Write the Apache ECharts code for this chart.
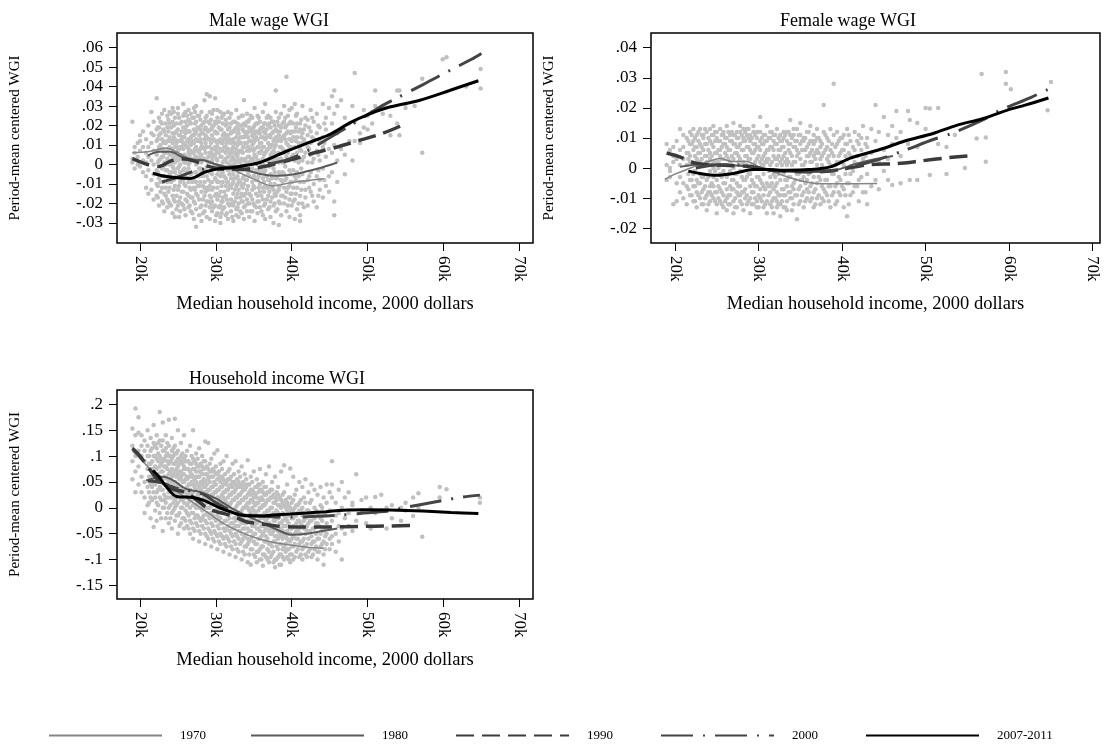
<!DOCTYPE html>
<html>
<head>
<meta charset="utf-8">
<script src="https://cdn.jsdelivr.net/npm/echarts@6/dist/echarts.min.js"></script>
<style>
  html, body { margin: 0; padding: 0; background: #fff; }
  #chart { width: 1105px; height: 750px; }
</style>
</head>
<body>
<div id="chart"></div>
<script>
// tick values
const xTicks = [20, 30, 40, 50, 60, 70];
const maleTicks = [-.03, -.02, -.01, 0, .01, .02, .03, .04, .05, .06];
const femaleTicks = [-.02, -.01, 0, .01, .02, .03, .04];
const hhTicks = [-.15, -.1, -.05, 0, .05, .1, .15, .2];
const years = ['1970', '1980', '1990', '2000', '2007-2011'];
const panelTitles = ['Male wage WGI', 'Female wage WGI', 'Household income WGI'];

// scatter clouds, [income (k), list of WGI values]
const maleDots = [
  [19.0,[.022,.003,.001]],[19.3,[.006,.009,-.002]],[19.7,[.011,.004,0]],[20.0,[.012,.007,-.001,.015]],
  [20.4,[.009,-.004,.017,.002]],[20.8,[.013,-.012,.006,.001,-.006]],[21.1,[.02,-.015,.004,.009,-.003]],
  [21.5,[.027,.011,-.008,.002,-.013,.016]],[21.8,[.015,-.005,.007,-.018,.022,0]],
  [22.2,[.034,.018,-.01,.005,-.016,.012,-.003]],[22.5,[.024,.009,-.021,.002,.015,-.007,.019]],
  [22.9,[.013,-.012,.026,.004,-.019,.008,-.002,.021]],[23.2,[.028,.006,-.015,.017,-.006,.011,-.024,.001]],
  [23.6,[.019,-.009,.025,.003,-.018,.012,-.003,.007,-.022]],[23.9,[.027,.014,-.012,.005,.021,-.005,-.02,.009,0]],
  [24.3,[.022,-.016,.011,.029,-.007,.003,-.025,.016,-.001,.008]],[24.6,[.016,.004,-.011,.024,-.019,.009,-.004,.013,-.027,.001]],
  [25.0,[.026,-.006,.012,-.021,.018,.002,-.013,.007,.029,-.002]],[25.3,[.012,-.017,.021,.005,-.009,.015,-.024,0,.009,-.004]],
  [25.7,[.031,.008,-.014,.019,-.003,.011,-.021,.025,.002,-.008,.014]],[26.0,[.018,-.011,.004,.027,-.018,.01,-.006,.016,-.026,.001,.022]],
  [26.4,[.023,.006,-.016,.013,-.002,.028,-.022,.008,-.009,.017,0]],[26.7,[.014,-.013,.021,.003,-.024,.01,-.005,.026,-.017,.007]],
  [27.1,[.029,.011,-.008,.018,-.019,.002,.024,-.012,.006,-.028,.015]],[27.4,[.017,-.004,.009,-.015,.022,-.023,.004,.013,-.009,0,.03,-.032]],
  [27.8,[.025,-.018,.012,-.002,.019,-.011,.006,-.026,.015,-.006,.003]],[28.1,[.02,.005,-.014,.027,-.021,.011,-.004,.016,-.029,.001,.009]],
  [28.5,[.033,.013,-.009,.022,-.016,.003,-.024,.008,-.003,.018,-.012]],[28.8,[.036,.018,-.006,.009,-.019,.025,-.012,.002,-.027,.014,-.001]],
  [29.2,[.035,.021,-.011,.006,-.022,.013,-.004,.027,-.016,.001,.009,-.028]],[29.5,[.026,-.009,.015,-.019,.004,.019,-.013,.008,-.024,.002,-.005]],
  [29.9,[.034,.012,-.016,.022,-.007,.005,-.021,.017,-.002,.009,-.029]],[30.2,[.024,-.012,.009,-.025,.016,.002,-.018,.011,-.005,.028,-.009]],
  [30.6,[.018,-.006,.013,-.021,.027,-.014,.004,-.027,.008,-.001,-.03]],[30.9,[.025,.007,-.017,.015,-.009,.021,-.023,.001,.011,-.004,-.019]],
  [31.3,[.02,-.011,.006,-.026,.014,-.002,.023,-.016,.009,-.007,.003]],[31.6,[.027,.012,-.02,.004,-.013,.018,-.028,.008,-.003,.015,-.009]],
  [32.0,[.016,-.007,.021,-.018,.002,.011,-.024,.006,-.012,.026,-.001]],[32.3,[.022,-.015,.009,-.005,.017,-.021,.003,-.029,.013,-.009,0]],
  [32.7,[.028,.005,-.011,.019,-.023,.008,-.003,.014,-.017,.001,-.026]],[33.0,[.018,-.004,.024,-.013,.006,-.02,.012,-.008,.002,-.027,.016]],
  [33.4,[.025,.011,-.019,.003,-.011,.02,-.025,.007,-.002,.014,-.015]],[33.7,[.033,.014,-.006,.021,-.016,.002,-.022,.009,-.01,.017,-.028]],
  [34.1,[.026,-.013,.007,-.024,.016,-.003,.011,-.018,.001,.022,-.008]],[34.4,[.019,.004,-.015,.012,-.027,.007,-.006,.023,-.02,.001]],
  [34.8,[.024,-.009,.015,-.018,.003,.01,-.024,.018,-.002,-.013]],[35.1,[.029,.012,-.006,.02,-.021,.005,-.012,.008,-.029,.001,.016]],
  [35.5,[.021,-.016,.009,-.003,.025,-.019,.013,-.008,.002,-.025]],[35.8,[.016,-.004,.022,-.014,.006,-.022,.011,-.01,.001,.018]],
  [36.2,[.027,.009,-.018,.003,-.007,.014,-.026,.019,-.012,0]],[36.5,[.031,.013,-.011,.021,-.02,.006,-.003,.016,-.028]],
  [36.9,[.02,-.008,.011,-.016,.025,.002,-.023,.008,-.012]],[37.2,[.024,.005,-.019,.014,-.005,.019,-.027,.009,-.01]],
  [37.6,[.017,-.013,.022,-.002,.007,-.021,.012,-.03,.003]],[37.9,[.038,.027,.01,-.007,.018,-.016,.003,-.024,.014]],
  [38.3,[.02,-.011,.006,-.019,.015,-.004,.024,-.013,.001,-.031]],[38.6,[.026,.009,-.016,.012,-.008,.019,-.026,.003]],
  [39.0,[.03,.015,-.005,.022,-.02,.007,-.012,.001]],[39.3,[.045,.02,-.014,.004,-.024,.011,-.007,.016]],
  [39.7,[.028,.008,-.018,.013,-.003,.021,-.011,-.027]],[40.0,[.029,.012,-.009,.004,-.021,.017,-.015]],
  [40.4,[.031,.017,-.006,.009,-.018,.002,-.028]],[40.7,[.026,-.012,.014,-.004,.021,-.023,.006]],
  [41.1,[.021,.008,-.016,.003,-.009,.018,-.026,-.029]],[41.4,[.03,.011,-.02,.016,-.005,.002]],
  [41.8,[.02,-.013,.006,.024,-.017,.011]],[42.1,[.023,.009,-.008,.015,-.021,.001]],
  [42.5,[.017,-.004,.011,-.014,.028,.005]],[42.9,[.022,.013,-.01,.003,-.019]],
  [43.3,[.026,.007,-.006,.016,-.022]],[43.7,[.012,-.013,.019,.002,-.008]],
  [44.1,[.031,.009,-.017,.014,-.002]],[44.5,[.024,.004,-.011,.018]],[44.9,[.029,.015,-.006,.008,-.014]],
  [45.3,[.035,.021,.006,-.004]],[45.6,[.038,.026,-.019,-.026,.01]],[46.0,[.03,.016,.002,-.009]],
  [46.5,[.033,.018,.008]],[47.0,[.024,.005,-.005]],[47.6,[.021,.012]],[48.0,[.03,.002]],[48.3,[.047,.022,.012]],
  [49.0,[.016,.011]],[49.5,[.028,.019]],[50.0,[.025,.018]],[50.6,[.027,.021]],[51.0,[.038,.03]],
  [52.0,[.026,.03]],[53.0,[.025,.015]],[53.9,[.038,.021]],[54.2,[.038,.015]],[55.0,[.029,.031]],
  [56.2,[.03]],[57.2,[.044,.006]],[59.9,[.054]],[60.4,[.055]],[63.0,[.04]],[64.9,[.049,.039]]
];
const maleCore = [
  [22.35,[.007,-.011,.019,-.004,.013,-.017,.001]],[22.7,[.016,-.006,.01,-.014,.022,.003,-.009]],
  [23.05,[.004,.018,-.009,.012,-.02,.008,-.001]],[23.4,[.011,-.003,.021,-.012,.006,-.016,.015,0]],
  [23.75,[.008,-.014,.017,.002,-.007,.023,-.019,.012]],[24.1,[.019,.005,-.009,.012,-.021,.001,-.004,.026]],
  [24.45,[.006,-.013,.02,-.002,.014,-.008,.027,-.018]],[24.8,[.021,.009,-.016,.003,-.006,.017,-.023,.011]],
  [25.15,[.015,-.001,.024,-.011,.008,-.019,.004,-.027]],[25.5,[.003,.017,-.007,.022,-.014,.009,-.02,.013]],
  [25.85,[.026,.005,-.01,.014,-.002,-.023,.019,.001]],[26.2,[.009,-.015,.02,-.004,.012,-.019,.003,.025]],
  [26.55,[.017,.001,-.012,.022,-.007,.011,-.021,.005]],[26.9,[.006,-.009,.015,-.017,.024,.002,-.025,.012]],
  [27.25,[.021,.008,-.013,.004,-.02,.016,-.004,.027]],[27.6,[.012,-.006,.019,-.016,.001,.025,-.011,.007]],
  [27.95,[.018,.004,-.009,.013,-.022,.008,-.002,.023]],[28.3,[.009,-.018,.016,-.006,.021,-.011,.003,-.025]],
  [28.65,[.024,.011,-.003,.019,-.014,.006,-.021,.015]],[29.0,[.013,-.008,.004,-.013,.017,-.019,.001,.022]],
  [29.35,[.018,.006,-.017,.011,-.009,.023,-.004,-.02]],[29.7,[.008,-.012,.02,-.001,.013,-.022,.005,.028]],
  [30.05,[.016,.003,-.008,.021,-.015,.007,-.026,.012]],[30.4,[.022,.006,-.016,.012,-.003,.019,-.022,-.009]],
  [30.75,[.011,-.011,.018,-.005,.004,-.019,.024,-.025]],[31.1,[.016,.002,-.014,.009,-.022,.013,-.006,.026]],
  [31.45,[.007,-.018,.015,-.009,.021,.001,-.025,.011]],[31.8,[.019,.006,-.011,.013,-.005,-.021,.024,0]],
  [32.15,[.012,-.01,.004,-.02,.017,-.003,.008,-.027]],[32.5,[.018,.002,-.013,.011,-.007,.022,-.019,.006]],
  [32.85,[.01,-.015,.016,-.006,.004,-.022,.021,-.01]],[33.2,[.02,.007,-.009,.014,-.017,.001,-.024,.011]],
  [33.55,[.006,-.012,.018,-.003,.009,-.019,.025,-.007]],[33.9,[.015,.003,-.015,.011,-.008,.02,-.021,0]],
  [34.25,[.009,-.02,.014,-.011,.004,.022,-.005,.017]],[34.6,[.017,-.003,.008,-.016,.012,-.024,.002,.025]],
  [34.95,[.007,.019,-.011,.003,-.02,.014,-.006,.011]],[35.3,[.014,-.008,.021,-.015,.004,-.003,.017,-.022]],
  [35.65,[.009,.002,-.012,.016,-.019,.006,-.006,.024]],[36.0,[.019,-.016,.011,-.003,.007,-.024,.014,0]],
  [36.35,[.005,.017,-.009,.021,-.014,.009,-.021,-.004]],[36.7,[.014,-.012,.007,-.006,.018,-.018,.002,.024]],
  [37.05,[.01,.003,-.014,.015,-.008,.021,-.022,-.001]],[37.4,[.016,-.007,.01,-.017,.003,.022,-.012,.006]],
  [37.75,[.006,-.01,.02,-.004,.013,-.02,.009,-.015]],[38.1,[.012,.002,-.014,.017,-.007,.022,-.023]],
  [38.45,[.017,-.005,.009,-.02,.003,.013,-.011]],[38.8,[.008,.021,-.009,.014,-.016,.001,-.004]],
  [39.15,[.013,-.008,.006,-.017,.019,-.001,.024]],[39.5,[.01,.002,-.012,.017,-.021,.006,.025]],
  [39.85,[.016,-.005,.009,-.015,.022,-.009]],[40.2,[.005,.014,-.012,.021,-.003,-.019]],
  [40.55,[.012,-.008,.019,-.015,.003,.025]],[40.9,[.017,.001,-.006,.011,-.02]],
  [41.25,[.007,-.013,.014,-.002,.023]],[41.6,[.013,.004,-.009,.018,-.022]],
  [42.3,[.008,-.006,.019,-.012]],[42.7,[.014,.001,-.016,.024]],[43.5,[.005,.02,-.003,-.016]],[44.3,[.011,-.008,.021]]
];

const femaleDots = [
  [19.0,[.008,-.004,.001]],[19.4,[.006,-.003,0,-.001]],[19.8,[.004,-.012,.002,.007]],[20.2,[.009,-.011,-.005,.003]],
  [20.6,[.013,-.008,.006,.001,-.003]],[21.0,[.007,-.01,.003,-.005,.011]],[21.4,[.01,-.006,.001,-.012,.005]],
  [21.8,[.012,.004,-.009,.002,-.004,.008]],[22.2,[.009,-.002,.006,-.011,.013,-.006]],
  [22.6,[.011,.003,-.008,.007,-.004,-.013,.001]],[23.0,[.013,-.005,.008,-.01,.002,.005,-.002]],
  [23.4,[.01,.006,-.012,.001,-.007,.011,-.003]],[23.8,[.012,-.009,.004,.008,-.004,-.014,.002]],
  [24.2,[.009,-.006,.013,-.001,.005,-.011,.003,-.008]],[24.6,[.011,.002,-.01,.007,-.003,.014,-.006,0]],
  [25.0,[.01,-.012,.005,-.004,.012,-.008,.002,-.015]],[25.4,[.013,.006,-.007,.001,-.011,.009,-.002,.004]],
  [25.8,[.012,-.005,.008,-.013,.003,-.009,.011,-.001]],[26.2,[.014,.004,-.01,.007,-.003,.01,-.007,.001,-.014]],
  [26.6,[.011,-.006,.002,-.012,.009,-.001,.006,-.009]],[27.0,[.015,.008,-.004,.011,-.011,.003,-.007,0,-.015]],
  [27.4,[.012,-.008,.005,-.002,.01,-.013,.007,-.005]],[27.8,[.014,.003,-.011,.008,-.006,.012,-.001,-.009]],
  [28.2,[.01,-.004,.006,-.014,.002,.009,-.008,.013]],[28.6,[.013,.007,-.009,.004,-.003,.011,-.012,.001]],
  [29.0,[.011,-.006,.009,-.01,.003,-.002,.006,-.015]],[29.4,[.012,.005,-.012,.008,-.005,.001,-.008,.014]],
  [29.8,[.01,-.003,.007,-.011,.012,-.006,.003,-.013]],[30.2,[.017,.009,-.007,.002,-.01,.006,-.004,.012]],
  [30.6,[.011,-.009,.004,-.002,.008,-.013,.001,-.006]],[31.0,[.014,.006,-.011,.009,-.005,.002,-.015,.003]],
  [31.4,[.012,-.003,.007,-.008,.01,-.012,.001,-.006]],[31.8,[.009,.004,-.01,.006,-.002,-.015,.011,-.007]],
  [32.2,[.013,-.005,.008,-.011,.003,-.008,.001,-.013]],[32.6,[.011,.006,-.009,.002,-.004,.009,-.012,-.016]],
  [33.0,[.01,-.007,.004,-.013,.007,-.002,.012,-.009]],[33.4,[.012,.003,-.006,.009,-.011,.001,-.004,-.014]],
  [33.8,[.016,.008,-.01,.005,-.003,.011,-.008]],[34.2,[.011,-.005,.007,-.012,.002,-.007,.013]],
  [34.6,[.013,.004,-.009,.009,-.002,-.017,.006]],[35.0,[.015,-.006,.003,-.011,.008,-.004,.011]],
  [35.4,[.01,.006,-.008,.001,-.013,.009,-.003]],[35.8,[.012,-.004,.007,-.01,.004,-.007]],
  [36.2,[.014,.009,-.006,.002,-.011,.005]],[36.6,[.011,-.008,.004,-.003,.008,-.013]],
  [37.0,[.013,.006,-.01,.001,-.005,.01]],[37.4,[.009,-.004,.007,-.012,.003]],
  [37.8,[.021,.012,-.007,.005,-.001,-.011]],[38.2,[.01,.003,-.009,.007,-.004]],
  [38.6,[.013,-.006,.006,-.013,.001]],[39.0,[.028,.011,.004,-.008,-.002]],
  [39.4,[.012,-.005,.008,-.011,.002]],[39.8,[.01,.005,-.009,.002,-.004]],
  [40.2,[.011,-.007,.006,-.013,.001]],[40.6,[.013,.003,-.005,.008,-.016]],
  [41.0,[.009,-.009,.004,-.002]],[41.5,[.012,.006,-.006,.002]],[42.0,[.011,-.004,.008,-.011]],
  [42.5,[.014,.003,-.008]],[43.0,[.01,-.002,.007,-.012]],[43.5,[.013,.005,-.006]],[44.0,[.021,.009,-.004]],
  [44.4,[.012,.002,-.007]],[45.0,[.017,.006,-.001]],[45.5,[.011,.003,-.004]],[46.0,[.014,.008,-.0056]],
  [46.5,[.019,.01]],[47.0,[.012,.004,-.005]],[47.9,[.019,.008]],[48.1,[.016,-.004]],[49.0,[.015,.007,-.004]],
  [50.0,[.02,.013]],[50.5,[.0198,-.0023]],[51.5,[.02,.008]],[52.5,[.007,-.002]],[53.5,[.011]],[54.7,[0]],
  [56.1,[.0098]],[56.7,[.0313]],[57.2,[.0102,.0021]],[59.6,[.028,.0319]],[60.2,[.0262]],[64.6,[.0192]],[65.0,[.0286]]
];
const femaleCore = [
  [21.6,[.005,-.007,.009,-.002,.003]],[22.0,[.008,-.004,.002,-.009,.011]],[22.4,[.004,-.006,.01,-.001,-.011,.007]],
  [22.8,[.009,.002,-.005,.012,-.009,.005]],[23.2,[.003,-.008,.007,-.003,.011,-.012]],[23.6,[.008,.001,-.006,.004,-.01,.013]],
  [24.0,[.006,-.003,.01,-.008,.002,-.012]],[24.4,[.011,.004,-.005,.008,-.009,.001]],[24.8,[.005,-.008,.009,-.001,.012,-.011]],
  [25.2,[.009,.002,-.006,.006,-.01,0]],[25.6,[.007,-.003,.011,-.008,.003,-.012]],[26.0,[.01,.001,-.005,.008,-.011,.005]],
  [26.4,[.006,-.009,.003,-.002,.012,-.012]],[26.8,[.012,.004,-.007,.009,-.004,.001]],[27.2,[.008,-.002,.005,-.01,.011,-.013]],
  [27.6,[.01,.002,-.006,.007,-.009,.004]],[28.0,[.006,-.008,.011,-.003,.001,-.012]],[28.4,[.009,.004,-.004,.012,-.007,-.01]],
  [28.8,[.007,-.002,.01,-.011,.003,.013]],[29.2,[.01,.001,-.008,.005,-.004,-.012]],[29.6,[.006,-.006,.011,.002,-.01,.008]],
  [30.0,[.012,.004,-.003,.007,-.009,-.013]],[30.4,[.008,-.005,.01,-.011,.001,.003]],[30.8,[.005,.009,-.007,.002,-.012,.011]],
  [31.2,[.01,-.001,.006,-.009,.003,-.006]],[31.6,[.007,-.005,.012,-.011,.002,-.013]],[32.0,[.011,.003,-.006,.008,-.003,-.01]],
  [32.4,[.006,-.009,.004,-.002,.01,-.012]],[32.8,[.009,.001,-.007,.007,-.011,.003]],[33.2,[.005,-.004,.011,-.009,.002,-.013]],
  [33.6,[.008,.002,-.008,.006,-.003,.012]],[34.0,[.01,-.006,.004,-.01,.001,-.014]],[34.4,[.007,.002,-.004,.009,-.009]],
  [34.8,[.005,-.007,.011,-.002,-.012]],[35.2,[.009,.001,-.009,.006,-.004]],[35.6,[.006,-.005,.01,-.011,.002]],
  [36.0,[.008,-.002,.004,-.008,.012]],[36.4,[.006,-.01,.002,.009,-.005]],[36.8,[.009,.003,-.007,.005,-.012]],
  [37.2,[.005,-.003,.01,-.009]],[37.6,[.008,.001,-.006,.004,-.01]],[38.0,[.006,-.004,.011,-.008]],
  [38.4,[.009,.002,-.006,.004,-.011]],[38.8,[.005,-.009,.008,-.002]],[39.2,[.007,.001,-.006,-.012]],
  [39.6,[.009,-.003,.004,-.008]],[40.0,[.006,-.006,.002,.01]],[40.4,[.008,-.002,-.009,.004]],
  [40.8,[.005,.011,-.005,-.012]],[41.3,[.007,-.001,-.008]],[41.8,[.004,.009,-.006]],[42.3,[.006,-.003,.01]],[42.8,[.004,-.008,.008]]
];

const hhDots = [
  [19.0,[.153,.055,.12,.09]],[19.4,[.192,.14,.1,.07,.03]],[19.8,[.145,.11,.175,.08,.045]],
  [20.2,[.14,.06,.1,.03,.12]],[20.6,[.13,.09,.05,.02,.11,-.01]],[21.0,[.12,.075,.15,.04,.1,.005]],
  [21.4,[.135,.085,.06,.02,.11,-.02,.045]],[21.8,[.16,.1,.07,.03,-.037,.125,.05]],
  [22.2,[.14,.095,.05,.01,.115,.075,-.025,.03]],[22.6,[.185,.13,.08,.06,.02,.1,.04,-.01]],
  [23.0,[.165,.11,.07,.035,.09,0,.055,-.045,.13]],[23.4,[.14,.1,.06,.02,.08,-.02,.045,.115,.01]],
  [23.8,[.17,.12,.085,.05,0,.065,.03,-.03,.1]],[24.2,[.135,.095,.06,.02,.075,-.01,.04,.11,-.04,.05]],
  [24.6,[.172,.105,.07,.03,.085,0,.05,-.025,.12,.015]],[25.0,[.15,.11,.065,.025,.08,-.015,.045,.095,-.05,.01]],
  [25.4,[.125,.09,.055,.015,.07,-.03,.04,.1,0,.06]],[25.8,[.14,.08,.05,.02,.065,-.02,.03,.095,-.04,.01,.075]],
  [26.2,[.11,.075,.04,.005,.055,-.035,.025,.09,-.01,.06]],[26.6,[.12,.085,.045,.015,.07,-.025,.035,-.05,0,.06]],
  [27.0,[.15,.095,.06,.02,.045,-.01,.03,.075,-.04,.005,-.06]],[27.4,[.105,.07,.035,0,.05,-.03,.015,.085,-.015,.06]],
  [27.8,[.115,.08,.04,.01,.06,-.02,.025,-.045,0,.07,-.065]],[28.2,[.1,.065,.03,-.005,.045,-.035,.01,.08,-.02,.05]],
  [28.6,[.128,.09,.05,.015,.065,-.025,.03,-.05,0,.04,-.07]],[29.0,[.125,.075,.035,0,.055,-.04,.015,-.015,.06,-.06]],
  [29.4,[.095,.06,.025,-.01,.04,-.03,.005,.07,-.05,.02,-.075]],[29.8,[.105,.07,.03,-.005,.05,-.045,.01,-.02,.045,-.065]],
  [30.2,[.111,.065,.02,-.015,.035,-.035,0,.055,-.055,.01,-.08]],[30.6,[.085,.05,.015,-.02,.04,-.05,.005,-.03,.06,-.07]],
  [31.0,[.09,.055,.02,-.01,.03,-.04,-.005,.045,-.06,-.085,0]],[31.4,[.1,.045,.01,-.025,.035,-.055,0,-.04,.05,-.075]],
  [31.8,[.075,.04,.005,-.02,.025,-.045,-.01,.055,-.065,-.09]],[32.2,[.085,.05,.015,-.03,.03,-.055,-.005,-.04,.04,-.08]],
  [32.6,[.09,.035,0,-.025,.02,-.05,-.01,.045,-.07,-.095,-.035]],[33.0,[.07,.04,.01,-.035,.025,-.06,-.015,.05,-.045,-.085]],
  [33.4,[.08,.03,-.005,-.03,.015,-.065,-.02,.04,-.05,-.1]],[33.8,[.065,.035,0,-.04,.02,-.055,-.015,.045,-.075,-.09,-.03]],
  [34.2,[.092,.045,.01,-.025,.025,-.07,-.04,0,-.06,-.105]],[34.6,[.06,.025,-.01,-.045,.015,-.06,-.025,.035,-.08,-.11]],
  [35.0,[.07,.03,-.005,-.035,.02,-.065,-.05,.01,-.09,-.02]],[35.4,[.055,.02,-.015,-.04,.01,-.07,-.03,.04,-.085,-.105]],
  [35.8,[.075,.035,0,-.045,.015,-.06,-.02,-.08,-.1,.045]],[36.2,[.05,.015,-.02,-.05,.005,-.075,-.035,.03,-.09,-.112]],
  [36.6,[.065,.025,-.01,-.04,.01,-.065,-.055,-.025,-.095,.04]],[37.0,[.08,.03,-.005,-.045,.015,-.07,-.03,-.085,-.105]],
  [37.4,[.05,.02,-.015,-.05,0,-.075,-.04,-.09,.035]],[37.8,[.06,.01,-.025,-.055,.02,-.065,-.035,-.1,-.115]],
  [38.2,[.04,.005,-.02,-.045,-.01,-.08,-.06,-.095,.025]],[38.6,[.07,.015,-.03,-.055,0,-.07,-.04,-.09,-.11]],
  [39.0,[.082,.03,-.015,-.05,.005,-.075,-.035,-.1]],[39.4,[.045,.01,-.025,-.06,-.005,-.08,-.045,-.095]],
  [39.8,[.076,.02,-.01,-.04,0,-.065,-.05,-.09,-.105]],[40.2,[.06,.015,-.02,-.055,-.005,-.075,-.035,-.1]],
  [40.6,[.035,.005,-.03,-.06,-.015,-.085,-.045]],[41.0,[.05,.01,-.025,-.05,-.07,-.04,-.095,-.005]],
  [41.4,[.04,0,-.035,-.065,-.015,-.08,-.1]],[41.8,[.055,.01,-.02,-.05,-.075,-.04,-.09]],
  [42.2,[.03,-.005,-.03,-.06,-.015,-.085]],[42.6,[.045,.015,-.025,-.055,-.07,-.095]],
  [43.0,[.035,0,-.04,-.065,-.02,-.08]],[43.4,[.025,-.01,-.03,-.06,-.085,-.1]],
  [43.8,[.04,.005,-.02,-.05,-.075]],[44.2,[.02,-.015,-.045,-.065,-.09,-.11]],[44.6,[.045,.01,-.03,-.07,-.05]],
  [45.0,[.03,-.005,-.04,-.06,-.08]],[45.3,[.09,.045,.02,-.025,-.055,-.07]],[45.8,[.01,-.015,-.05,-.085]],
  [46.2,[.035,-.01,-.035,-.065]],[46.6,[.05,0,-.04,-.1]],[47.0,[.02,-.02,-.05]],[47.5,[.03,-.01,-.035]],
  [48.0,[.01,-.045,.005]],[48.5,[.065,-.025]],[49.2,[.015,-.005]],[49.8,[.02,-.03]],[50.4,[0,-.04]],
  [51.0,[.021,-.01]],[51.8,[.025,-.005]],[52.5,[0,-.04]],[53.2,[.005,-.02]],[54.4,[0,-.025]],
  [55.0,[.01,-.005]],[56.0,[.02,-.016]],[56.7,[.028,0]],[57.2,[-.056]],[59.5,[.04,.02]],[60.4,[.036]],[64.8,[.01,.02]]
];
const hhCore = [
  [21.2,[.1,.06,.03,.085,.01]],[21.6,[.115,.075,.04,.09,.015,.055]],[22.0,[.12,.08,.045,.1,.02,.06,-.005]],
  [22.4,[.105,.065,.035,.09,.005,.05,.125]],[22.8,[.12,.085,.05,.07,.015,.095,-.02,.035]],
  [23.2,[.095,.06,.025,.08,0,.045,.11,.015]],[23.6,[.105,.075,.04,.09,-.01,.055,.125,.02]],
  [24.0,[.09,.055,.02,.07,.005,.035,.1,-.02]],[24.4,[.1,.065,.03,.085,-.005,.045,.115,.01]],
  [24.8,[.09,.06,.02,.075,-.015,.04,.105,.005]],[25.2,[.095,.055,.025,.07,-.01,.035,.085,-.035]],
  [25.6,[.085,.05,.015,.065,-.02,.03,.105,0]],[26.0,[.09,.055,.02,.075,-.025,.035,.1,-.005]],
  [26.4,[.075,.045,.01,.06,-.015,.03,.09,-.04]],[26.8,[.085,.05,.015,.065,-.03,.025,.1,-.01]],
  [27.2,[.075,.04,.005,.055,-.02,.02,.09,-.045]],[27.6,[.08,.045,.01,.06,-.035,.025,.095,-.015]],
  [28.0,[.07,.035,0,.05,-.025,.015,.085,-.05]],[28.4,[.075,.04,.005,.055,-.04,.02,.09,-.015]],
  [28.8,[.065,.03,-.01,.045,-.03,.01,.08,-.055]],[29.2,[.07,.035,0,.05,-.045,.015,.085,-.02]],
  [29.6,[.06,.025,-.015,.04,-.035,.005,.075,-.06]],[30.0,[.065,.03,-.005,.045,-.05,.01,.08,-.025]],
  [30.4,[.055,.02,-.02,.035,-.04,0,.07,-.065]],[30.8,[.06,.025,-.01,.04,-.055,.005,.075,-.03]],
  [31.2,[.05,.015,-.025,.03,-.045,-.005,.065,-.07]],[31.6,[.055,.02,-.015,.035,-.06,0,.07,-.035]],
  [32.0,[.045,.01,-.03,.025,-.05,-.01,.06,-.075]],[32.4,[.05,.015,-.02,.03,-.065,-.005,.065,-.04]],
  [32.8,[.04,.005,-.035,.02,-.055,-.015,.055,-.08]],[33.2,[.045,.01,-.025,.025,-.07,-.01,.06,-.045]],
  [33.6,[.035,0,-.04,.015,-.06,-.02,.05,-.085]],[34.0,[.04,.005,-.03,.02,-.075,-.015,.055,-.05]],
  [34.4,[.03,-.005,-.045,.01,-.065,-.025,.045,-.09]],[34.8,[.035,0,-.035,.015,-.08,-.02,.05,-.055]],
  [35.2,[.025,-.01,-.05,.005,-.07,-.03,.04,-.095]],[35.6,[.03,-.005,-.04,.01,-.085,-.025,.045,-.06]],
  [36.0,[.02,-.015,-.055,0,-.075,-.035,.035,-.1]],[36.4,[.025,-.01,-.045,.005,-.09,-.03,.04,-.065]],
  [36.8,[.015,-.02,-.06,-.005,-.08,-.04,.03,-.1]],[37.2,[.02,-.015,-.05,0,-.095,-.035,.035,-.07]],
  [37.6,[.01,-.025,-.065,-.01,-.085,-.045,.025,-.105]],[38.0,[.015,-.02,-.055,-.005,-.1,-.04,.03,-.075]],
  [38.4,[.005,-.03,-.07,-.015,-.09,-.05,.02,-.11]],[38.8,[.01,-.025,-.06,-.01,-.095,-.045,.025,-.08]],
  [39.2,[0,-.035,-.07,-.02,-.085,-.055,.015]],[39.6,[.005,-.03,-.065,-.015,-.1,-.05,.02,-.08]],
  [40.0,[-.005,-.04,-.075,-.02,-.09,-.06,.01]],[40.4,[0,-.035,-.07,-.015,-.095,-.05,.025]],
  [40.8,[-.01,-.045,-.08,-.025,-.06,.005]],[41.2,[-.005,-.03,-.065,-.09,-.05,.015]],
  [41.6,[-.01,-.04,-.075,-.025,-.06,.02]],[42.0,[-.005,-.035,-.07,-.095,-.045]],
  [42.4,[-.015,-.045,-.08,-.025,.01]],[42.8,[-.01,-.04,-.065,-.09]],[43.2,[-.005,-.05,-.075,-.03]],
  [43.6,[-.015,-.035,-.06,-.085]],[44.0,[0,-.045,-.07,-.025]],[44.4,[-.01,-.04,-.055,-.08]]
];

// smoothed curves, [income (k), WGI]
const male1970 = [[19,.006],[21,.0065],[23.5,.0085],[25,.006],[27,.0026],[28.3,.0024],[29.8,.0005],[31.4,-.001],[33,-.004],[35,-.0075],[37.5,-.011],[39.8,-.0094],[42,-.0083],[44.2,-.0073]];
const male1980 = [[21,.0046],[22.5,.0065],[24,.0065],[25.5,.004],[27,.0025],[28.5,.002],[30,0],[32,-.002],[34,-.003],[36,-.005],[38,-.0058],[40,-.0052],[42,-.0035],[44,-.0015],[46,.001]];
const male1990 = [[19,.003],[21,0],[22.5,-.001],[24,.0017],[25.5,.003],[27,.002],[29,-.001],[31,-.0025],[33,-.0025],[35,-.002],[37,-.0005],[39,.0015],[40.5,.003],[43,.006],[46,.009],[49,.0125],[52,.016],[55.1,.021]];
const male2000 = [[22.9,-.009],[25,-.0065],[27,-.0035],[29,-.002],[31,-.0015],[33,-.001],[35,0],[37,.0005],[39,.002],[40.5,.004],[42.4,.0077],[45.7,.0154],[47.7,.02],[51.4,.029],[53.8,.034],[57.3,.041],[59.7,.046],[63.7,.054],[65,.057]];
const male2007 = [[21.7,-.0045],[23.5,-.0062],[26.6,-.0072],[28.5,-.004],[30,-.0025],[32.3,-.0015],[35.8,.001],[39.3,.0068],[42.4,.0115],[45,.0154],[47.7,.0215],[50.3,.026],[52.9,.0295],[56.9,.033],[60.8,.038],[64.6,.043]];

const female1970 = [[18.8,-.0037],[20,-.002],[22.2,.0004],[24,.0022],[25.4,.0032],[26.8,.0022],[28.6,.0022],[30,.0005],[31.5,-.001],[33.4,-.0029],[35,-.0042],[37,-.0051],[40,-.0052],[44.2,-.0051]];
const female1980 = [[20.6,.0004],[23,.0013],[25,.0012],[27.8,.0008],[29.9,.0001],[32,-.0008],[34,-.0012],[37,-.0012],[39,-.0008],[41.8,.0015],[44,.003],[46.1,.004]];
const female1990 = [[19,.005],[20.8,.0035],[22,.002],[23.5,.0012],[25,.001],[27,.0008],[29,.0005],[31,-.0005],[33,-.001],[35,-.0012],[37,-.0012],[39,-.0008],[41.6,.0004],[43.4,.0012],[46.6,.0015],[49.5,.0024],[52.5,.0034],[55.7,.0042]];
const female2000 = [[22.5,0],[25,.001],[27.5,.001],[30,0],[32,-.0008],[35,-.001],[38,-.001],[40,-.0005],[42,.001],[44.5,.003],[47.3,.0057],[50.9,.0095],[53.1,.0115],[56.9,.0161],[58.9,.0192],[62.7,.0236],[64.8,.0264]];
const female2007 = [[21.6,-.001],[23,-.0018],[25,-.0024],[27,-.0018],[29.4,-.0005],[31,-.0005],[33.4,-.0007],[36,-.0005],[38.6,.0004],[41,.0033],[44.9,.0065],[47.5,.009],[50.9,.0115],[53.7,.0142],[56.9,.0165],[59.7,.0192],[62,.021],[64.7,.0233]];

const hh1970 = [[19,.11],[20,.095],[21,.08],[22,.065],[23,.05],[24.5,.035],[26,.02],[27.5,.005],[29,-.01],[31,-.03],[33,-.045],[35,-.057],[37,-.065],[39.8,-.072],[42,-.076],[44.2,-.078]];
const hh1980 = [[20.8,.053],[22,.057],[23.1,.06],[24.5,.052],[26,.037],[28,.03],[30,.018],[32,0],[34,-.015],[36,-.028],[38,-.042],[40,-.052],[42,-.05],[44,-.045],[46,-.04]];
const hh1990 = [[19,.115],[20,.1],[21,.08],[22,.06],[23,.045],[24.5,.035],[26,.03],[27.5,.015],[29,-.002],[30.5,-.009],[32.3,-.016],[34,-.027],[36,-.031],[38,-.035],[41,-.037],[45,-.037],[49,-.036],[53,-.035],[56,-.034]];
const hh2000 = [[21,.052],[22.5,.05],[24,.042],[25.5,.035],[27,.032],[28.5,.025],[30,.01],[32,-.005],[34,-.013],[36,-.016],[38,-.018],[40,-.018],[42.4,-.017],[46.4,-.014],[49,-.011],[52.9,-.006],[55.8,.003],[59.7,.0135],[62.6,.021],[64.8,.0245]];
const hh2007 = [[21.7,.072],[22.5,.06],[23.5,.04],[24.8,.022],[27,.02],[28.5,.014],[30.5,0],[32,-.008],[33.2,-.014],[35.8,-.016],[37.5,-.014],[39.8,-.012],[42,-.01],[44.5,-.0075],[46.8,-.0045],[50,-.004],[52.9,-.0044],[57.3,-.0064],[61,-.009],[64.6,-.011]];

const flat = cols => cols.flatMap(([x, ys]) => ys.map(y => [x, y]));
const serif = 'Liberation Serif';

const lineLook = {
  '1970': {color: '#858585', width: 1.5, type: 'solid'},
  '1980': {color: '#5a5a5a', width: 2, type: 'solid'},
  '1990': {color: '#3a3a3a', width: 3.5, type: [18, 8]},
  '2000': {color: '#444444', width: 3, type: [32, 10, 2, 10]},
  '2007-2011': {color: '#000000', width: 3, type: 'solid'}
};

const panels = [
  {dots: maleDots.concat(maleCore), lines: [male1970, male1980, male1990, male2000, male2007], ticks: maleTicks,
   grid: {left: 117, top: 33, width: 416, height: 210}, x: [16.97, 71.8], y: [-.0403, .0675], title: [264, 7]},
  {dots: femaleDots.concat(femaleCore), lines: [female1970, female1980, female1990, female2000, female2007], ticks: femaleTicks,
   grid: {left: 651, top: 33, width: 449, height: 210}, x: [17.13, 70.87], y: [-.0249, .0449], title: [843, 7]},
  {dots: hhDots.concat(hhCore), lines: [hh1970, hh1980, hh1990, hh2000, hh2007], ticks: hhTicks,
   grid: {left: 117, top: 390, width: 416, height: 209}, x: [16.97, 71.8], y: [-.1762, .2276], title: [272, 365]}
];

const fmtY = v => String(+v.toFixed(2)).replace(/^(-?)0\./, '$1.');

const option = {
  backgroundColor: '#fff',
  animation: false,
  title: panels.map((p, i) => ({
    text: panelTitles[i], left: p.title[0], top: p.title[1], textAlign: 'center',
    textStyle: {fontFamily: serif, fontSize: 18, fontWeight: 'normal', color: '#000'}
  })),
  grid: panels.map(p => Object.assign({show: true, borderColor: '#000', borderWidth: 1.5}, p.grid)),
  xAxis: panels.map((p, i) => ({
    type: 'value', gridIndex: i, min: p.x[0], max: p.x[1],
    name: 'Median household income, 2000 dollars', nameLocation: 'middle', nameGap: 52,
    nameTextStyle: {fontFamily: serif, fontSize: 18.5, color: '#000'},
    axisLine: {show: false, onZero: false},
    axisTick: {show: true, length: 8, lineStyle: {color: '#000', width: 1}, customValues: xTicks},
    axisLabel: {customValues: xTicks, formatter: v => v + 'k', rotate: -90, margin: 13,
      fontFamily: serif, fontSize: 17, color: '#000'},
    splitLine: {show: false}
  })),
  yAxis: panels.map((p, i) => ({
    type: 'value', gridIndex: i, min: p.y[0], max: p.y[1],
    name: 'Period-mean centered WGI', nameLocation: 'middle', nameGap: 94,
    nameTextStyle: {fontFamily: serif, fontSize: 15, color: '#000'},
    axisLine: {show: false, onZero: false},
    axisTick: {show: true, length: 8, lineStyle: {color: '#000', width: 1}, customValues: p.ticks},
    axisLabel: {customValues: p.ticks, formatter: fmtY, margin: 14, fontFamily: serif, fontSize: 17, color: '#000'},
    splitLine: {show: false}
  })),
  legend: years.map((y, i) => ({
    data: [y], left: [48, 250, 455, 660, 865][i], top: 729, padding: 0,
    itemWidth: 113, itemHeight: 12, itemGap: 0,
    itemStyle: {opacity: 0},
    textStyle: {fontFamily: serif, fontSize: 13, color: '#000', padding: [0, 0, 0, 13]}
  })),
  series: []
};

panels.forEach((p, i) => {
  option.series.push({
    type: 'scatter', name: 'obs', xAxisIndex: i, yAxisIndex: i,
    data: flat(p.dots), symbolSize: 4.5, itemStyle: {color: '#c0c0c0', opacity: 1}, z: 1, silent: true
  });
  p.lines.forEach((d, j) => {
    const look = lineLook[years[j]];
    option.series.push({
      type: 'line', name: years[j], xAxisIndex: i, yAxisIndex: i, data: d,
      smooth: 0.3, symbol: 'none', z: 2 + j,
      lineStyle: {color: look.color, width: look.width, type: look.type},
      itemStyle: {color: look.color}
    });
  });
});

const chart = echarts.init(document.getElementById('chart'));
chart.setOption(option);
</script>
</body>
</html>
